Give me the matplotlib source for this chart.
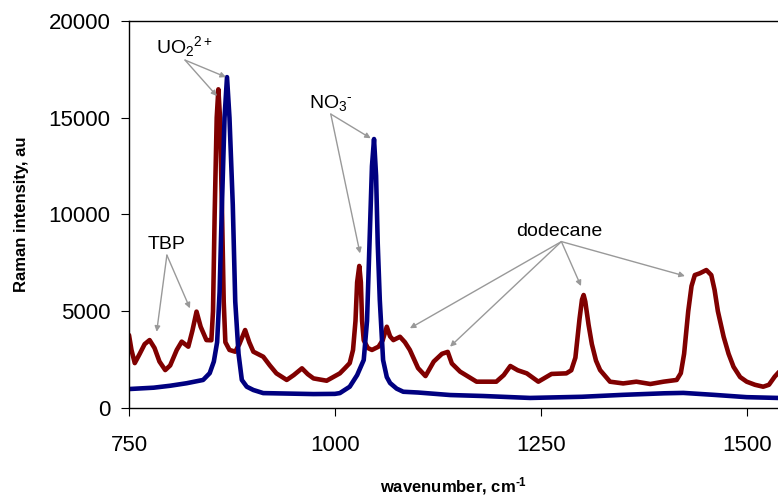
import matplotlib
matplotlib.use("Agg")
import matplotlib.pyplot as plt

plt.rcParams['font.family'] = ['Liberation Sans', 'DejaVu Sans']
plt.rcParams['mathtext.default'] = 'regular'

# blue spectrum (uranyl nitrate, aqueous)
blue_wn = [750, 780, 800, 820, 840, 848, 853, 857, 860, 862.5, 866, 869, 872, 876,
           879, 883, 887, 893, 901, 913, 950, 974, 1000, 1006, 1018, 1027, 1035, 1039,
           1042, 1045, 1047.5, 1050, 1052, 1054.5, 1058.5, 1063, 1067, 1075, 1083, 1101,
           1140, 1180, 1237, 1300, 1350, 1400, 1423, 1460, 1500, 1538]
blue_int = [980, 1050, 1150, 1280, 1450, 1800, 2400, 3400, 6000, 10000, 15000, 17100, 15000, 10500,
            5500, 2800, 1450, 1100, 930, 770, 740, 720, 730, 770, 1100, 1700, 2480, 4500,
            8500, 12500, 13900, 12000, 8500, 5580, 2480, 1600, 1290, 1000, 840, 800,
            670, 620, 520, 580, 680, 760, 780, 680, 560, 520]

# dark red spectrum (organic phase: TBP / dodecane)
red_wn = [750, 753, 757, 763, 769, 775, 781, 787, 794, 800, 808, 814, 822, 827, 832,
          837, 844, 850, 852, 854, 856.5, 858.5, 860.5, 863, 865, 867, 872, 879, 884,
          891, 896, 901, 913, 921, 929, 941.5, 950, 960, 967, 974, 990, 1006, 1012,
          1018, 1022, 1025, 1027, 1029.6, 1031.5, 1033, 1035, 1040, 1045, 1053, 1058,
          1063, 1067, 1071, 1079, 1085, 1091, 1101, 1110, 1120, 1130, 1137, 1142, 1152,
          1172, 1196, 1205, 1213, 1222, 1233, 1247, 1263, 1281, 1287, 1292, 1297, 1300,
          1302, 1304, 1308, 1312, 1317, 1322, 1334, 1350, 1366, 1383, 1399, 1415, 1420,
          1424, 1429, 1433, 1437, 1443, 1451, 1457, 1461, 1465, 1472, 1478, 1484, 1492,
          1500, 1510, 1520, 1527, 1534, 1540]
red_int = [3770, 3000, 2320, 2800, 3300, 3510, 3100, 2400, 1960, 2200, 3000, 3430, 3170, 4000, 4980,
           4200, 3510, 3500, 5000, 10000, 15000, 16470, 15000, 10000, 5500, 3400, 3000, 2910, 3300,
           4030, 3400, 2910, 2650, 2200, 1790, 1450, 1700, 2050, 1750, 1530, 1410, 1790, 2050,
           2320, 3000, 4500, 6500, 7340, 6500, 4500, 3500, 3100, 3000, 3170, 3500,
           4200, 3700, 3510, 3680, 3400, 3000, 2060, 1650, 2400, 2800, 2900, 2300, 1880,
           1360, 1360, 1700, 2170, 1950, 1790, 1360, 1760, 1790, 1950, 2600, 4600, 5600,
           5840, 5500, 4300, 3300, 2450, 1960, 1360, 1270, 1360, 1240, 1360, 1450, 1800,
           2800, 5000, 6300, 6870, 6960, 7130, 6870, 6100, 5000, 3680, 2800, 2130, 1600,
           1360, 1200, 1100, 1200, 1620, 1900]

fig = plt.figure(figsize=(7.78, 4.99), dpi=100)
ax = fig.add_axes([129 / 778, 91 / 499, 1 - 129 / 778, 387 / 499])

ax.plot(red_wn, red_int, color='#800000', lw=3.3, solid_joinstyle='round', solid_capstyle='round')
ax.plot(blue_wn, blue_int, color='#000080', lw=3.3, solid_joinstyle='round', solid_capstyle='round')

ax.set_xlim(750, 1538)
ax.set_ylim(0, 20000)
ax.set_xticks([750, 1000, 1250, 1500])
ax.set_yticks([0, 5000, 10000, 15000, 20000])
ax.tick_params(direction='out', length=5.5, width=0.8, labelsize=16)
ax.tick_params(axis='x', pad=14)
ax.tick_params(axis='y', pad=8)
ax.spines['right'].set_visible(False)
for s in ['left', 'bottom', 'top']:
    ax.spines[s].set_linewidth(1.0)

ax.set_xlabel('wavenumber, cm$^{\u20101}$', fontsize=12, fontweight='bold', labelpad=14)
ax.set_ylabel('Raman intensity, au', fontsize=12, fontweight='bold', labelpad=14)

arrow = dict(arrowstyle='-|>', color='#999999', lw=1.0, mutation_scale=8, shrinkA=0, shrinkB=0)

# UO2 2+
for tip in [(867.8, 17100), (856.8, 16120)]:
    ax.annotate('', xy=tip, xytext=(818, 17980), arrowprops=arrow)
ax.text(818, 18050, 'UO$_2$$^{2+}$', fontsize=14, ha='center', va='bottom')

# NO3 -
for tip in [(1043.5, 13940), (1030.5, 7990)]:
    ax.annotate('', xy=tip, xytext=(995, 15190), arrowprops=arrow)
ax.text(995, 15250, 'NO$_3$$^{\u2010}$', fontsize=14, ha='center', va='bottom')

# TBP
for tip in [(783.6, 3940), (824, 5150)]:
    ax.annotate('', xy=tip, xytext=(796, 7900), arrowprops=arrow)
ax.text(796, 8000, 'TBP', fontsize=14, ha='center', va='bottom')

# dodecane
for tip in [(1425, 6820), (1298.8, 6300), (1139.8, 3170), (1091, 4120)]:
    ax.annotate('', xy=tip, xytext=(1275, 8600), arrowprops=arrow)
ax.text(1272, 8700, 'dodecane', fontsize=14, ha='center', va='bottom')

fig.savefig('out.png', dpi=100)
